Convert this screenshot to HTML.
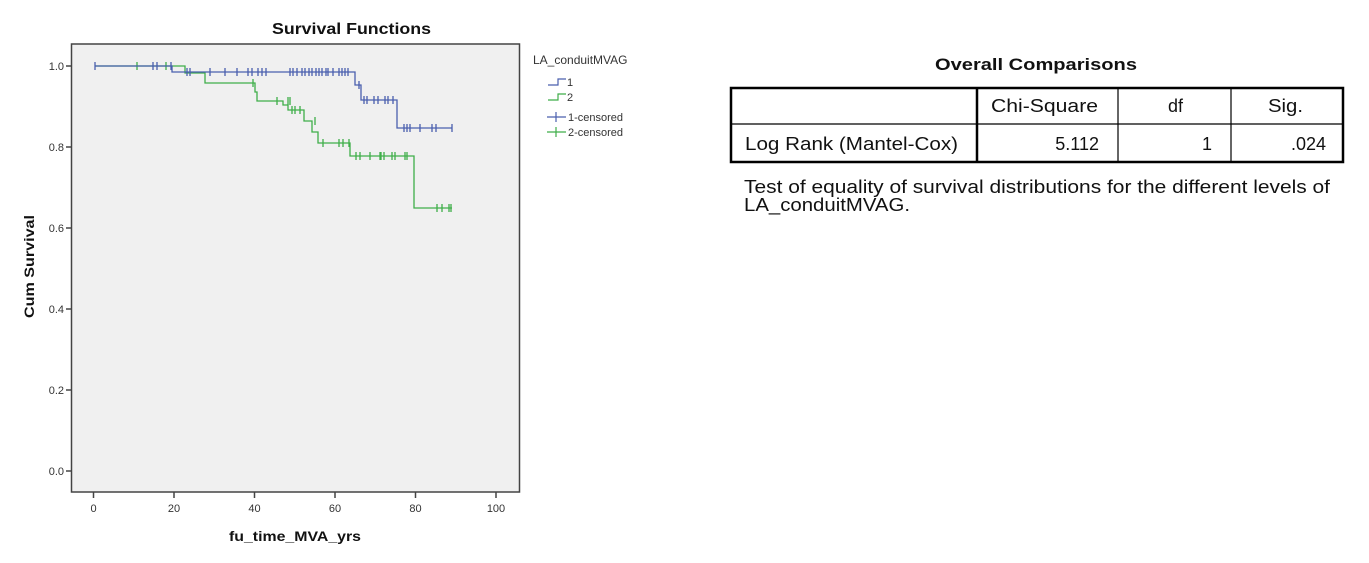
<!DOCTYPE html>
<html><head><meta charset="utf-8"><style>
html,body{margin:0;padding:0;background:#fff;}
body{width:1369px;height:563px;position:relative;overflow:hidden;font-family:"Liberation Sans",Arial,sans-serif;}
</style></head><body>
<svg width="1369" height="563" viewBox="0 0 1369 563" style="position:absolute;left:0;top:0" font-family="Liberation Sans, Arial, sans-serif">
<text x="272" y="34" font-size="16" font-weight="bold" fill="#111" textLength="159" lengthAdjust="spacingAndGlyphs">Survival Functions</text>
<rect x="71.5" y="44" width="448" height="448" fill="#f0f0f0" stroke="#444" stroke-width="1.5"/>
<g stroke="#444" stroke-width="1.5">
<line x1="66" y1="66" x2="71" y2="66"/><line x1="66" y1="147" x2="71" y2="147"/>
<line x1="66" y1="228" x2="71" y2="228"/><line x1="66" y1="309" x2="71" y2="309"/>
<line x1="66" y1="390" x2="71" y2="390"/><line x1="66" y1="471" x2="71" y2="471"/>
<line x1="93.5" y1="492" x2="93.5" y2="498"/><line x1="174" y1="492" x2="174" y2="498"/>
<line x1="254.5" y1="492" x2="254.5" y2="498"/><line x1="335" y1="492" x2="335" y2="498"/>
<line x1="415.5" y1="492" x2="415.5" y2="498"/><line x1="496" y1="492" x2="496" y2="498"/>
</g>
<g font-size="11" fill="#333" text-anchor="end">
<text x="64" y="70">1.0</text><text x="64" y="151">0.8</text><text x="64" y="232">0.6</text>
<text x="64" y="313">0.4</text><text x="64" y="394">0.2</text><text x="64" y="475">0.0</text>
</g>
<g font-size="11" fill="#333" text-anchor="middle">
<text x="93.5" y="512">0</text><text x="174" y="512">20</text><text x="254.5" y="512">40</text>
<text x="335" y="512">60</text><text x="415.5" y="512">80</text><text x="496" y="512">100</text>
</g>
<text x="229" y="541" font-size="14" font-weight="bold" fill="#111" textLength="132" lengthAdjust="spacingAndGlyphs">fu_time_MVA_yrs</text>
<text transform="translate(34,318) rotate(-90)" font-size="14" font-weight="bold" fill="#111" textLength="103" lengthAdjust="spacingAndGlyphs">Cum Survival</text>
<path fill="none" stroke="#3fae49" stroke-width="1.3" d="M95 66 H185 V73 H205 V83 H255 V92 H257 V101 H283 V105 H288 V110 H304 V121 H312 V132 H318 V143 H350 V156 H414 V208 H452"/>
<path fill="none" stroke="#3fae49" stroke-width="1.3" d="M137 62v8 M166 62v8 M253 79v8 M277 97v8 M288 97v8 M290 97v8 M292 106v8 M295 106v8 M300 106v8 M315 117v8 M323 139v8 M339 139v8 M343 139v8 M349 139v8 M356 152v8 M360 152v8 M370 152v8 M380 152v8 M381 152v8 M384 152v8 M392 152v8 M395 152v8 M405 152v8 M407 152v8 M437 204v8 M442 204v8 M449 204v8 M451 204v8"/>
<path fill="none" stroke="#4a5fae" stroke-width="1.3" d="M95 66 H172 V72 H355 V85 H361 V100 H397 V128 H452"/>
<path fill="none" stroke="#4a5fae" stroke-width="1.3" d="M95 62v8 M153 62v8 M157 62v8 M171 62v8 M187 68v8 M190 68v8 M210 68v8 M225 68v8 M237 68v8 M248 68v8 M252 68v8 M258 68v8 M262 68v8 M266 68v8 M290 68v8 M293 68v8 M297 68v8 M302 68v8 M305 68v8 M309 68v8 M312 68v8 M316 68v8 M319 68v8 M322 68v8 M326 68v8 M328 68v8 M333 68v8 M339 68v8 M342 68v8 M345 68v8 M348 68v8 M359 81v8 M364 96v8 M367 96v8 M374 96v8 M378 96v8 M385 96v8 M388 96v8 M393 96v8 M404 124v8 M407 124v8 M410 124v8 M420 124v8 M432 124v8 M436 124v8 M452 124v8"/>
<text x="533" y="64" font-size="12" fill="#333">LA_conduitMVAG</text>
<path d="M548 85 H558 V79 H566" fill="none" stroke="#4a5fae" stroke-width="1.2"/>
<text x="567" y="86" font-size="11" fill="#333">1</text>
<path d="M548 100 H558 V94 H566" fill="none" stroke="#3fae49" stroke-width="1.2"/>
<text x="567" y="101" font-size="11" fill="#333">2</text>
<path d="M547 117 H566 M556 112 V122" fill="none" stroke="#4a5fae" stroke-width="1.2"/>
<text x="568" y="121" font-size="11" fill="#333">1-censored</text>
<path d="M547 132 H566 M556 127 V137" fill="none" stroke="#3fae49" stroke-width="1.2"/>
<text x="568" y="136" font-size="11" fill="#333">2-censored</text>
<text x="935" y="70" font-size="17" font-weight="bold" fill="#111" textLength="202" lengthAdjust="spacingAndGlyphs">Overall Comparisons</text>
<rect x="731" y="88" width="612" height="74" fill="none" stroke="#000" stroke-width="2.5"/>
<line x1="731" y1="124" x2="1343" y2="124" stroke="#000" stroke-width="1.2"/>
<line x1="977" y1="88" x2="977" y2="162" stroke="#000" stroke-width="2.5"/>
<line x1="1118" y1="88" x2="1118" y2="162" stroke="#000" stroke-width="1.2"/>
<line x1="1231" y1="88" x2="1231" y2="162" stroke="#000" stroke-width="1.2"/>
<g font-size="18" fill="#111">
<text x="991" y="112" textLength="107" lengthAdjust="spacingAndGlyphs">Chi-Square</text>
<text x="1168" y="112" textLength="15" lengthAdjust="spacingAndGlyphs">df</text>
<text x="1268" y="112" textLength="35" lengthAdjust="spacingAndGlyphs">Sig.</text>
<text x="745" y="150" textLength="213" lengthAdjust="spacingAndGlyphs">Log Rank (Mantel-Cox)</text>
<text x="1099" y="150" text-anchor="end">5.112</text>
<text x="1212" y="150" text-anchor="end">1</text>
<text x="1326" y="150" text-anchor="end">.024</text>
<text x="744" y="193" textLength="586" lengthAdjust="spacingAndGlyphs">Test of equality of survival distributions for the different levels of</text>
<text x="744" y="211" textLength="166" lengthAdjust="spacingAndGlyphs">LA_conduitMVAG.</text>
</g>
</svg>
</body></html>
